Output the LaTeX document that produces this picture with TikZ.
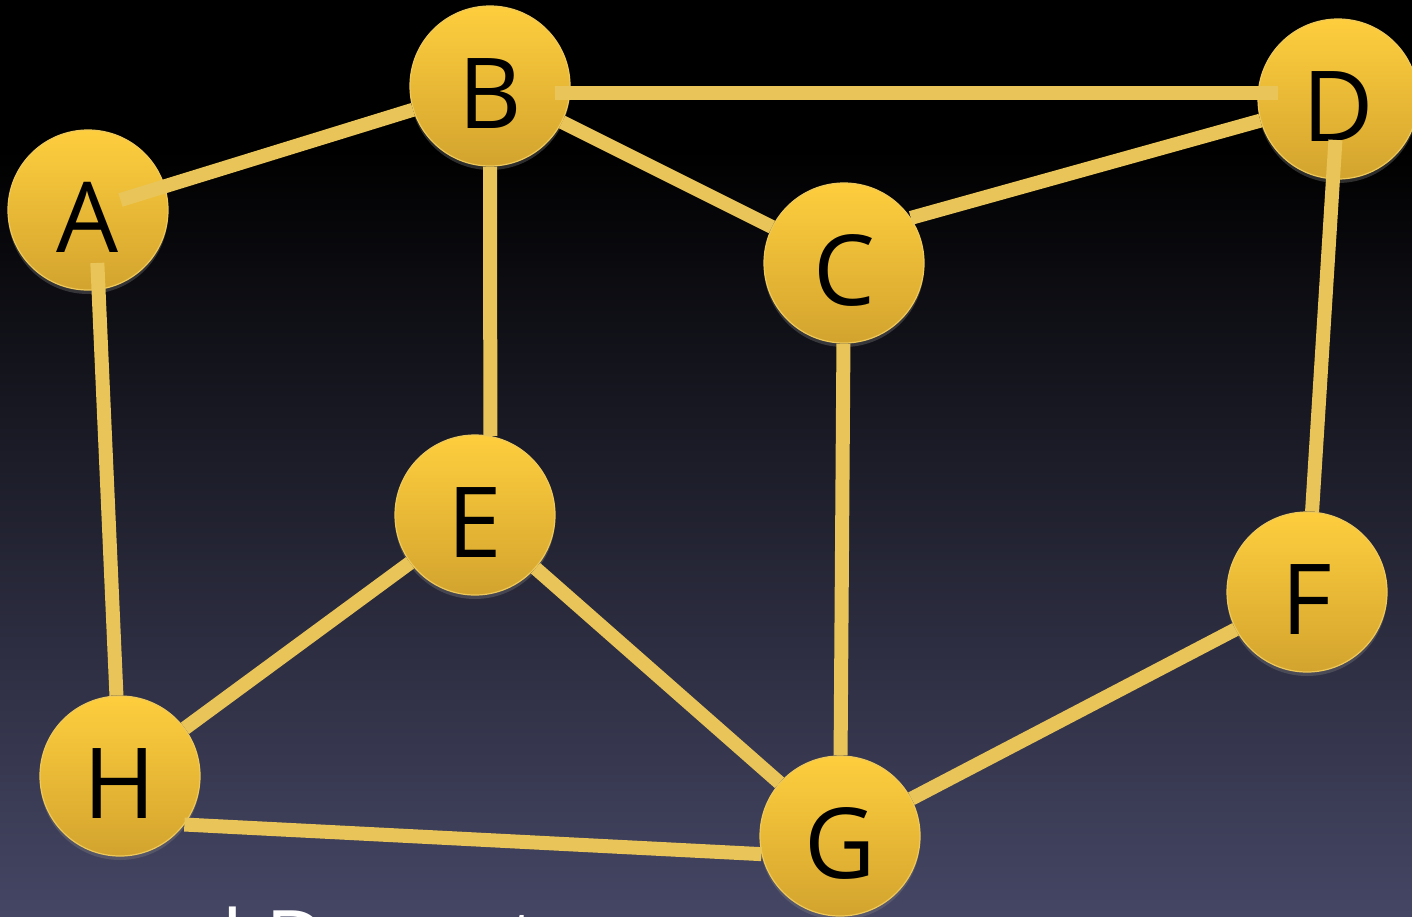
\documentclass[tikz,border=0pt]{standalone}
\usepackage{fontspec}
\setmainfont{Open Sans}
\usetikzlibrary{shapes,shadows,backgrounds}
\definecolor{NodeTop}{RGB}{254,206,62}
\definecolor{NodeBottom}{RGB}{211,164,46}
\definecolor{NodeRim}{RGB}{238,200,88}
\definecolor{EdgeGold}{RGB}{233,196,88}
\definecolor{BgBottom}{RGB}{69,70,100}

\begin{document}
\begin{tikzpicture}[x=0.5pt, y=-0.5pt]
			\tikzstyle{Vertex} 	= [circle, draw=NodeRim, line width=0.6pt, top color=NodeTop, bottom color=NodeBottom, minimum size=80pt, inner sep=0pt, font=\fontsize{49}{49}\selectfont, text height=42pt, text depth=0pt, drop shadow={opacity=0.35, shadow xshift=0pt, shadow yshift=-2pt}]
			\tikzstyle{Link}	= [line width=7pt, EdgeGold]
			\tikzstyle{Caption}	= [white, font=\fontsize{42.5}{42.5}\selectfont, anchor=base west, inner sep=0pt]

			\useasboundingbox (0,0) rectangle (1412,916);
			\clip (0,0) rectangle (1412,916);
			\fill [black] (0,0) rectangle (1412,150);
			\shade [top color=black, bottom color=BgBottom] (0,149) rectangle (1412,916);

			\node (vA) at (88, 210) [Vertex] {A};
			\node (vB) at (490, 86) [Vertex] {B};
			\node (vC) at (844, 263) [Vertex] {C};
			\node (vD) at (1338, 99) [Vertex] {D};
			\node (vE) at (475, 515) [Vertex] {E};
			\node (vF) at (1307, 592) [Vertex] {F};
			\node (vG) at (840, 836) [Vertex] {G};
			\node (vH) at (120, 776) [Vertex] {H};
			\node (cap) at (92, 971) [Caption] {and Departure};

			\draw [-, shorten <=17pt] (vA.center) to (vB) [Link];
			\draw [-, shorten <=26.5pt] ([xshift=3.5pt]vA.center) to (vH) [Link];
			\draw [-, shorten <=32.5pt, shorten >=30pt] ([yshift=-3.5pt]vB.center) to ([yshift=3pt]vD.center) [Link];
			\draw [-] (vB) to (vC) [Link];
			\draw [-] (vB.south) to (vE.79) [Link];
			\draw [-] (vC.34) to (vD) [Link];
			\draw [-] (vC) to (vG) [Link];
			\draw [-, shorten <=20.5pt] (vD.center) to (vF) [Link];
			\draw [-] (vE) to (vH) [Link];
			\draw [-] (vE) to (vG) [Link];
			\draw [-] (vG) to (vF) [Link];
			\draw [-] (vH.-37) to (vG.193) [Link];
		\end{tikzpicture}
\end{document}
